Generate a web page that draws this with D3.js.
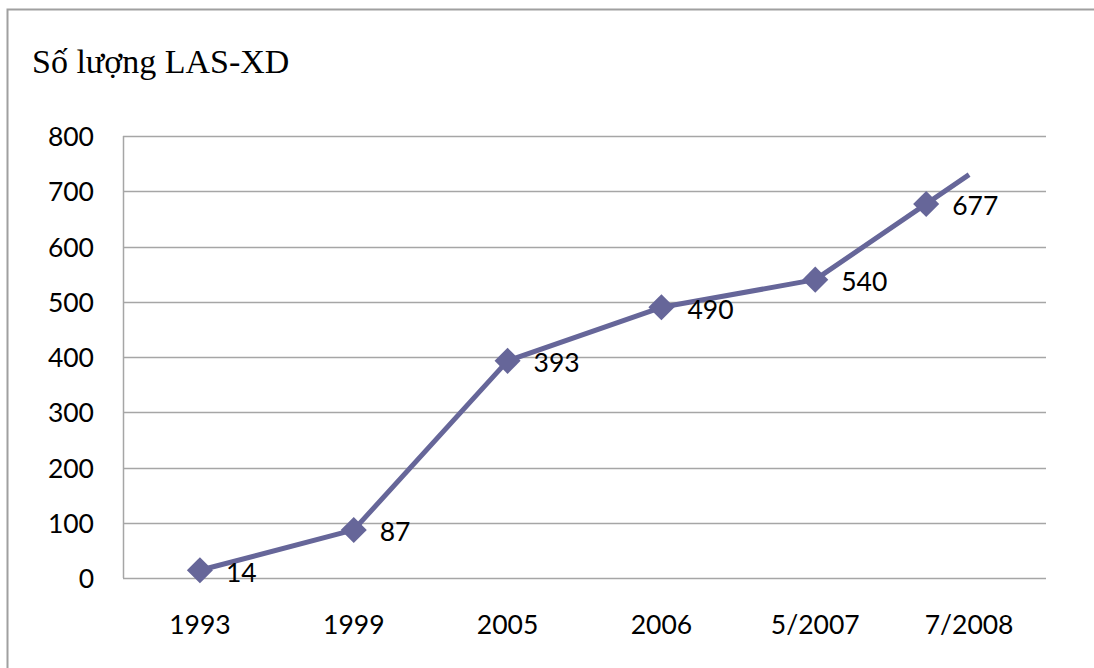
<!DOCTYPE html>
<html>
<head>
<meta charset="utf-8">
<script src="https://cdn.jsdelivr.net/npm/d3@7"></script>
<style>
  html, body { margin: 0; padding: 0; background: #fff; }
  svg { display: block; }
</style>
</head>
<body>
<svg id="chart" width="1094" height="668"></svg>
<script>
// Number of construction labs (LAS-XD) by period
const categories = ["1993", "1999", "2005", "2006", "5/2007", "7/2008"];
const values = [14, 87, 393, 490, 540, 677];
// the line carries on to the last period at this level
const lineEndValue = 730;
const yTicks = [0, 100, 200, 300, 400, 500, 600, 700, 800];
const title = "Số lượng LAS-XD";

const svg = d3.select("#chart");
const W = 1094, H = 668;
const plot = { left: 123, right: 1046, top: 136, bottom: 578 };
const lineColor = "#666699";
const gridColor = "#a6a6a6";
const labelFont = "Lato, 'Open Sans', sans-serif";

// outer chart frame
svg.append("path")
  .attr("d", `M7.5,${H + 2} V9.5 H${W + 2}`)
  .attr("fill", "none")
  .attr("stroke", "#a0a0a0")
  .attr("stroke-width", 2);

svg.append("text")
  .attr("x", 32).attr("y", 73)
  .attr("font-family", "'Liberation Serif', 'Times New Roman', serif")
  .attr("font-size", 34)
  .attr("fill", "#000")
  .text(title);

const x = d3.scaleBand().domain(categories).range([plot.left, plot.right]).padding(0);
const cx = c => x(c) + x.bandwidth() / 2;
const y = d3.scaleLinear().domain([0, 800]).range([plot.bottom, plot.top]);

// horizontal gridlines
svg.append("g")
  .selectAll("line")
  .data(yTicks)
  .join("line")
  .attr("x1", plot.left).attr("x2", plot.right)
  .attr("y1", d => Math.round(y(d)) + 0.5).attr("y2", d => Math.round(y(d)) + 0.5)
  .attr("stroke", gridColor).attr("stroke-width", 1.5);

// value axis line
svg.append("line")
  .attr("x1", plot.left + 0.5).attr("x2", plot.left + 0.5)
  .attr("y1", plot.top).attr("y2", plot.bottom)
  .attr("stroke", gridColor).attr("stroke-width", 1.5);

// y tick labels
const yAxis = d3.axisLeft(y).tickValues(yTicks).tickSize(0).tickPadding(0);
const gy = svg.append("g").attr("transform", `translate(94,0)`).call(yAxis);
gy.select(".domain").remove();
gy.selectAll("text")
  .attr("font-family", labelFont).attr("font-size", 26.5).attr("fill", "#000")
  .attr("dy", "0.36em");

// x tick labels
const xAxis = d3.axisBottom(x).tickSize(0).tickPadding(0);
const gx = svg.append("g").attr("transform", `translate(0,634)`).call(xAxis);
gx.select(".domain").remove();
gx.selectAll("text")
  .attr("font-family", labelFont).attr("font-size", 26.5).attr("fill", "#000")
  .attr("dy", 0);

// line points: the first periods, then the level reached at the last period
const n = values.length;
const linePts = values.slice(0, n - 1).map((v, i) => [cx(categories[i]), y(v)]);
linePts.push([cx(categories[n - 1]), y(lineEndValue)]);

// last marker sits where the final segment reaches its value
const prevV = values[n - 2];
const t = (values[n - 1] - prevV) / (lineEndValue - prevV);
const markers = values.map((v, i) => {
  if (i < n - 1) return { v, px: cx(categories[i]), py: y(v) };
  const px = cx(categories[n - 2]) + t * (cx(categories[n - 1]) - cx(categories[n - 2]));
  return { v, px, py: y(v) };
});

svg.append("path")
  .datum(linePts)
  .attr("d", d3.line())
  .attr("fill", "none")
  .attr("stroke", lineColor)
  .attr("stroke-width", 5)
  .attr("stroke-linejoin", "round");

// diamond markers
svg.append("g")
  .selectAll("path")
  .data(markers)
  .join("path")
  .attr("transform", d => `translate(${d.px},${d.py}) rotate(45)`)
  .attr("d", d3.symbol().type(d3.symbolSquare).size(340))
  .attr("fill", lineColor);

// data labels
svg.append("g")
  .selectAll("text")
  .data(markers)
  .join("text")
  .attr("x", d => d.px + 26)
  .attr("y", d => d.py + 2)
  .attr("dy", "0.36em")
  .attr("font-family", labelFont).attr("font-size", 26.5).attr("fill", "#000")
  .text(d => d.v);
</script>
</body>
</html>
